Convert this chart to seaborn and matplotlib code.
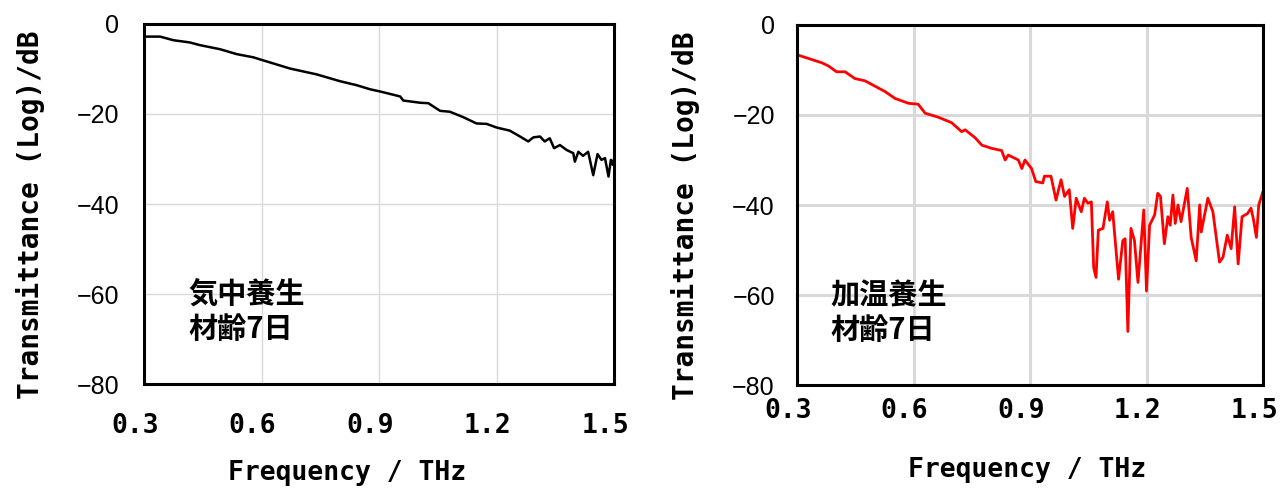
import matplotlib
matplotlib.use("Agg")
import matplotlib.pyplot as plt
import matplotlib.transforms as mtransforms
import seaborn as sns
import pandas as pd

# ---- data ----
freq_air = [0.300, 0.307, 0.341, 0.375, 0.417, 0.443, 0.494, 0.537, 0.579, 0.605,
            0.673, 0.741, 0.800, 0.843, 0.877, 0.903, 0.954, 0.962, 1.005, 1.026,
            1.056, 1.081, 1.115, 1.149, 1.175, 1.200, 1.234, 1.260, 1.281, 1.294,
            1.311, 1.323, 1.336, 1.347, 1.362, 1.379, 1.396, 1.400, 1.409, 1.421,
            1.434, 1.447, 1.458, 1.468, 1.477, 1.486, 1.492, 1.497, 1.500]
db_air = [-2.8, -2.8, -2.8, -3.6, -4.1, -4.7, -5.6, -6.7, -7.4, -8.1,
          -9.9, -11.2, -12.7, -13.6, -14.5, -15.0, -16.1, -17.0, -17.5, -17.6,
          -19.3, -19.5, -20.7, -22.1, -22.2, -23.0, -23.7, -25.0, -26.1, -25.2,
          -25.0, -26.1, -25.4, -27.6, -26.9, -28.0, -28.7, -30.6, -28.4, -29.3,
          -28.4, -33.6, -28.9, -30.2, -29.8, -33.9, -30.2, -31.3, -30.0]

freq_heat = [0.300, 0.303, 0.321, 0.346, 0.364, 0.381, 0.402, 0.424, 0.449, 0.475,
             0.501, 0.527, 0.552, 0.587, 0.612, 0.630, 0.664, 0.698, 0.724, 0.733,
             0.758, 0.776, 0.801, 0.827, 0.836, 0.844, 0.870, 0.879, 0.887, 0.904,
             0.915, 0.933, 0.937, 0.954, 0.967, 0.980, 0.989, 1.001, 1.010, 1.019,
             1.032, 1.040, 1.049, 1.058, 1.064, 1.070, 1.076, 1.088, 1.099, 1.105,
             1.113, 1.128, 1.139, 1.145, 1.152, 1.160, 1.169, 1.178, 1.193, 1.200,
             1.208, 1.221, 1.229, 1.236, 1.246, 1.255, 1.261, 1.268, 1.274, 1.281,
             1.289, 1.305, 1.315, 1.328, 1.337, 1.341, 1.358, 1.371, 1.388, 1.397,
             1.408, 1.418, 1.427, 1.436, 1.446, 1.460, 1.469, 1.475, 1.483, 1.489,
             1.500]
db_heat = [-6.2, -6.7, -7.2, -7.9, -8.4, -9.1, -10.4, -10.4, -11.9, -12.4,
           -13.6, -14.8, -16.3, -17.4, -17.6, -19.6, -20.5, -21.7, -23.7, -23.3,
           -25.0, -26.7, -27.4, -27.9, -30.0, -28.9, -30.0, -31.9, -30.0, -31.9,
           -34.8, -35.1, -33.6, -33.6, -38.9, -34.4, -38.1, -36.6, -45.2, -38.5,
           -41.5, -38.5, -39.6, -39.3, -53.9, -56.1, -45.6, -45.2, -39.3, -43.4,
           -41.5, -56.5, -47.9, -47.5, -68.1, -45.2, -47.9, -57.2, -41.1, -59.1,
           -44.5, -42.2, -37.4, -38.1, -48.6, -42.6, -44.5, -37.8, -44.1, -40.0,
           -43.7, -36.3, -47.2, -52.4, -40.0, -46.0, -38.5, -41.5, -52.7, -51.6,
           -46.7, -49.7, -40.4, -53.1, -42.6, -41.9, -40.7, -43.0, -47.2, -40.0,
           -37.0]

x_ticks = [0.3, 0.6, 0.9, 1.2, 1.5]
y_ticks = [0, -20, -40, -60, -80]
x_label = "Frequency / THz"
y_label = "Transmittance (Log)/dB"
note_air = "気中養生\n材齢7日"
note_heat = "加温養生\n材齢7日"

sns.set_theme(style="white")
plt.rcParams['font.family'] = ['DejaVu Sans Mono', 'Noto Sans CJK JP']
plt.rcParams['text.color'] = 'black'
plt.rcParams['axes.labelcolor'] = 'black'
plt.rcParams['xtick.color'] = 'black'
plt.rcParams['ytick.color'] = 'black'

fig = plt.figure(figsize=(12.81, 4.90), dpi=100)
W, H = 1281, 490

def add_ax(x0, y0, x1, y1):
    return fig.add_axes([x0 / W, 1 - y1 / H, (x1 - x0) / W, (y1 - y0) / H])

ax1 = add_ax(144, 24, 614, 384)
ax2 = add_ax(797, 25, 1263, 385)

panels = [
    (ax1, freq_air, db_air, "black", 1.8, note_air, 1.0, 0.094, 21, -0.211, 0.432, -0.21, 18),
    (ax2, freq_heat, db_heat, "#ff0000", 2.0, note_heat, 2.2, 0.071, 9, -0.200, 0.494, -0.208, 16),
]

for ax, fx, dy, col, lw, note, glw, tx, xpad, xly, xlx, ylx, ypad in panels:
    df = pd.DataFrame({"f": fx, "db": dy})
    sns.lineplot(data=df, x="f", y="db", ax=ax, color=col, lw=lw, sort=False)
    ax.set_xlim(0.3, 1.5)
    ax.set_ylim(-80, 0)
    ax.set_xticks(x_ticks)
    ax.set_yticks(y_ticks)
    ax.set_xticklabels([f"{v:.1f}" for v in x_ticks], fontsize=19, fontweight="bold")
    ax.set_yticklabels([f"{v:d}".replace("-", "\u2212") for v in y_ticks],
                       fontsize=18, family=['Liberation Sans Narrow', 'Liberation Sans'])
    ax.tick_params(axis="both", length=0)
    ax.tick_params(axis="x", pad=xpad)
    ax.tick_params(axis="y", pad=ypad)
    ax.grid(True, color="#d9d9d9", lw=glw)
    ax.set_axisbelow(True)
    for s in ax.spines.values():
        s.set_visible(True)
        s.set_color("black")
        s.set_linewidth(2.2)
    ax.set_xlabel(x_label, fontsize=19, fontweight="bold")
    ax.set_ylabel(y_label, fontsize=20, fontweight="bold")
    ax.xaxis.set_label_coords(xlx, xly)
    ax.yaxis.set_label_coords(ylx, 0.47)
    off = mtransforms.ScaledTranslation(-9 / 100, 0, fig.dpi_scale_trans)
    for lab in ax.get_xticklabels():
        lab.set_transform(lab.get_transform() + off)
    ax.text(tx, 0.2, note, transform=ax.transAxes, ha="left", va="center",
            fontsize=21, fontweight="bold", linespacing=1.2,
            family=['Noto Sans CJK JP', 'DejaVu Sans'])

fig.savefig("out.png", dpi=100, facecolor="white")
